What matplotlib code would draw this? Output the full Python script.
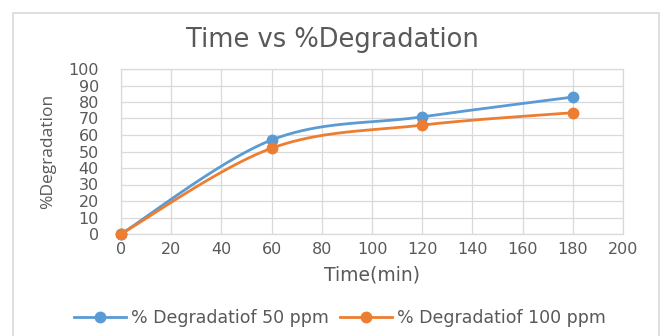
import numpy as np
import matplotlib.pyplot as plt
from matplotlib.patches import Rectangle
from matplotlib.lines import Line2D

time_min = [0, 60, 120, 180]
deg_50ppm = [0, 57, 71, 83]
deg_100ppm = [0, 52, 66, 73.5]
series_names = ["% Degradatiof 50 ppm", "% Degradatiof 100 ppm"]
series_colors = ["#5B9BD5", "#ED7D31"]


def smooth_curve(x, y, n=60):
    """Excel-style smoothed line: cubic Bezier segments with Catmull-Rom tangents."""
    x = np.asarray(x, float)
    y = np.asarray(y, float)
    pts = np.column_stack([x, y])
    out = []
    for i in range(len(pts) - 1):
        p0 = pts[i - 1] if i > 0 else pts[i]
        p1 = pts[i]
        p2 = pts[i + 1]
        p3 = pts[i + 2] if i + 2 < len(pts) else pts[i + 1]
        c1 = p1 + (p2 - p0) / 6.0
        c2 = p2 - (p3 - p1) / 6.0
        t = np.linspace(0, 1, n)[:, None]
        seg = ((1 - t) ** 3) * p1 + 3 * ((1 - t) ** 2) * t * c1 + 3 * (1 - t) * t ** 2 * c2 + t ** 3 * p2
        out.append(seg if i == 0 else seg[1:])
    seg = np.vstack(out)
    return seg[:, 0], seg[:, 1]


plt.rcParams['font.family'] = ['DejaVu Sans']
text_color = "#595959"

W, H = 661, 336
fig = plt.figure(figsize=(W / 100, H / 100), dpi=100)

# chart area frame
fig.patches.append(Rectangle((12.5 / W, -0.05), (659 - 12.5) / W, (H - 12.5) / H + 0.05,
                             transform=fig.transFigure, fill=False,
                             edgecolor="#D9D9D9", linewidth=1.2))

ax = fig.add_axes([121 / W, 1 - 234 / H, (623 - 121) / W, (234 - 69) / H])
for xs, ys, c in [(time_min, deg_50ppm, series_colors[0]), (time_min, deg_100ppm, series_colors[1])]:
    sx, sy = smooth_curve(xs, ys)
    ax.plot(sx, sy, color=c, linewidth=2.0, zorder=3, clip_on=False)
    ax.plot(xs, ys, linestyle="none", marker="o", markersize=7.5, color=c, zorder=4, clip_on=False)

ax.set_xlim(0, 200)
ax.set_ylim(0, 100)
ax.set_xticks(np.arange(0, 201, 20))
ax.set_yticks(np.arange(0, 101, 10))
ax.grid(True, color="#D9D9D9", linewidth=0.9)
ax.set_axisbelow(True)
for s in ax.spines.values():
    s.set_color("#D9D9D9")
    s.set_linewidth(0.9)
ax.tick_params(length=0, colors=text_color, labelsize=11.5, pad=6)
ax.tick_params(axis="y", pad=16)

ax.set_xlabel("Time(min)", fontsize=13.5, color=text_color, labelpad=6)
ax.set_ylabel("%Degradation", fontsize=12.5, color=text_color, labelpad=9,
              family="Open Sans")

fig.text(332 / W, 1 - 40 / H, "Time vs %Degradation", ha="center", va="center",
         fontsize=18.5, color=text_color)

handles = [Line2D([0], [0], color=c, linewidth=2.0, marker="o", markersize=7.5)
           for c in series_colors]
fig.legend(handles, series_names, loc="center", bbox_to_anchor=(340 / W, 1 - 318 / H),
           ncol=2, frameon=False, fontsize=12.5, labelcolor=text_color,
           handlelength=3.0, handletextpad=0.3, columnspacing=0.6)

fig.savefig("out.png", dpi=100, facecolor="white")
